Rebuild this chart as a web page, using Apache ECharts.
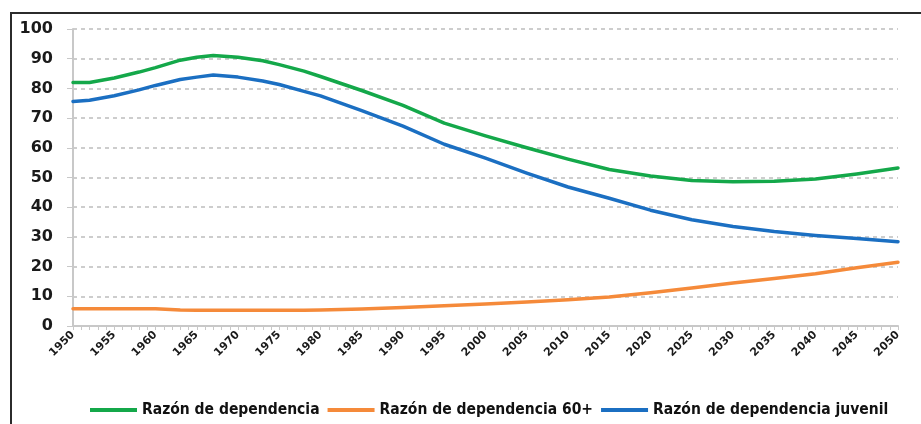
<!DOCTYPE html>
<html>
<head>
<meta charset="utf-8">
<script src="https://cdn.jsdelivr.net/npm/echarts@6/dist/echarts.min.js"></script>
<style>
    html, body { margin: 0; padding: 0; background: #fff; }
    #chart { width: 921px; height: 424px; }
    /* 外框：只露出左边和上边 */
    #frame {
        position: absolute; left: 10px; top: 12px; width: 940px; height: 440px;
        border-left: 2px solid #2b2b2b; border-top: 2px solid #2b2b2b;
        pointer-events: none;
    }
</style>
</head>
<body>
<div id="chart"></div>
<div id="frame"></div>
<script>
// 年份
var years = [1950, 1952, 1955, 1958, 1960, 1963, 1965, 1967, 1970, 1973, 1975, 1978, 1980,
    1985, 1990, 1995, 2000, 2005, 2010, 2015, 2020, 2025, 2030, 2035, 2040, 2045, 2050];

// 三条线的数值
var total = [82, 82, 83.5, 85.5, 87, 89.5, 90.5, 91.1, 90.5, 89.3, 88, 85.8, 84,
    79.3, 74.3, 68.3, 64, 60, 56.2, 52.7, 50.5, 49, 48.6, 48.7, 49.5, 51.2, 53.2];
var old60 = [5.8, 5.8, 5.8, 5.8, 5.8, 5.4, 5.3, 5.3, 5.3, 5.3, 5.3, 5.3, 5.4,
    5.7, 6.2, 6.8, 7.4, 8.1, 8.8, 9.8, 11.2, 12.8, 14.5, 16, 17.6, 19.6, 21.5];
var youth = [75.6, 76, 77.5, 79.5, 81, 83, 83.8, 84.5, 83.8, 82.5, 81.3, 79, 77.5,
    72.5, 67.3, 61.2, 56.5, 51.5, 46.8, 43, 39, 35.8, 33.5, 31.8, 30.5, 29.5, 28.4];

var names = ['Razón de dependencia', 'Razón de dependencia 60+', 'Razón de dependencia juvenil'];
var colors = ['#14a84a', '#f58a3a', '#1b6fc2'];

function pairs(vals) {
    return years.map(function (y, i) { return [y, vals[i]]; });
}

(function () {
    var myechart = echarts.init(document.getElementById('chart'));

    function lineSeries(name, vals, color) {
        return {
            name: name,
            type: 'line',
            data: pairs(vals),
            showSymbol: false,
            lineStyle: { width: 3.5, color: color, join: 'round', cap: 'round' },
            itemStyle: { color: color }
        };
    }

    var option = {
        animation: false,
        grid: { left: 73, right: 23, top: 29, bottom: 98 },
        legend: {
            left: 85,
            bottom: 1,
            icon: 'rect',
            itemWidth: 47,
            itemHeight: 4,
            itemGap: 8,
            textStyle: {
                fontFamily: 'DejaVu Sans Condensed',
                fontWeight: 'bold',
                fontSize: 15.5,
                color: '#111'
            },
            data: names
        },
        xAxis: {
            type: 'value',
            min: 1950,
            max: 2050,
            interval: 1,
            splitLine: { show: false },
            axisLine: { lineStyle: { color: '#c8c8c8', width: 2 } },
            axisTick: { show: true, length: 4, lineStyle: { color: '#c8c8c8' } },
            axisLabel: {
                rotate: 45,
                margin: 7,
                fontFamily: 'DejaVu Sans',
                fontWeight: 'bold',
                fontSize: 11,
                color: '#1a1a1a',
                formatter: function (v) { return v % 5 === 0 ? String(v) : ''; }
            }
        },
        yAxis: {
            type: 'value',
            min: 0,
            max: 100,
            interval: 10,
            axisLine: { show: true, lineStyle: { color: '#c8c8c8', width: 2 } },
            axisTick: { show: true, length: 6, lineStyle: { color: '#c8c8c8' } },
            splitLine: { lineStyle: { color: '#bdbdbd', type: [4, 4], width: 1.5 } },
            axisLabel: {
                margin: 20,
                fontFamily: 'DejaVu Sans',
                fontWeight: 'bold',
                fontSize: 16,
                color: '#1a1a1a'
            }
        },
        series: [
            lineSeries(names[0], total, colors[0]),
            lineSeries(names[1], old60, colors[1]),
            lineSeries(names[2], youth, colors[2])
        ]
    };

    myechart.setOption(option);
})();
</script>
</body>
</html>
